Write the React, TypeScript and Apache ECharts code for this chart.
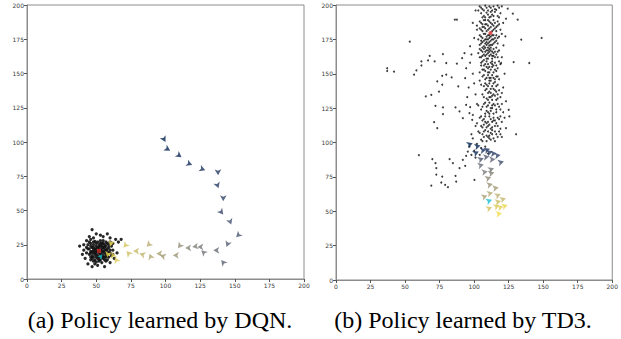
import React, { useEffect, useRef } from "react";
import * as echarts from "echarts";

// ---- tick labels ----
const ticks = [0, 25, 50, 75, 100, 125, 150, 175, 200];

// ---- captions ----
const captionA = "(a) Policy learned by DQN.";
const captionB = "(b) Policy learned by TD3.";

// ---- DQN panel ----
const dqnTraj: [number, number][] = [
  [100, 100], [103.4, 93.7], [111.6, 88.8], [119.3, 83.2], [128.7, 79.3], [138, 75.7],
  [138.3, 66.2], [141.7, 56.7], [141.7, 47], [147.5, 39.7], [151, 30.4], [144, 23.4],
  [140.2, 13.9], [134.5, 20.9], [125.8, 20.9], [123, 23.4], [119.3, 23.4], [114.2, 22.6],
  [109, 22.4], [105.3, 17.3], [96, 17.5], [93.3, 18.5], [88.4, 18.5], [86.3, 23.6],
  [81.2, 18.7], [76.6, 20.4], [71.8, 20.4], [69.6, 22.9], [63.4, 15.8], [61.4, 19.5],
  [60, 23.8], [57.8, 15.8],
];
const dqnCloud: [number, number][] = [
  [47, 15], [49, 14], [51, 15], [53, 14], [55, 15], [57, 16], [47, 17], [49, 18], [51, 17],
  [53, 18], [55, 17], [57, 18], [59, 19], [46, 20], [48, 21], [50, 20], [52, 21], [54, 20],
  [56, 21], [58, 20], [60, 21], [47, 23], [49, 22], [51, 23], [53, 24], [55, 23], [57, 24],
  [59, 23], [48, 25], [50, 26], [52, 25], [54, 26], [56, 25], [45, 18], [45, 22], [50, 12.5],
  [54, 12], [58, 14], [61, 17], [61, 24], [49, 27.5], [53, 28], [57, 27], [44, 25], [43, 19],
  [62, 21], [48, 19], [52, 19], [56, 19], [50, 16], [54, 16], [50, 24], [54, 22], [46, 16],
  [58, 26], [52, 13], [48, 27], [55, 26], [46, 24], [59, 16],
  [46, 14], [48, 13], [52, 14], [56, 14], [48, 16], [52, 16], [56, 16], [58, 17], [46, 19],
  [50, 18], [54, 18], [58, 22], [48, 23], [52, 23], [56, 23], [46, 26], [50, 22], [54, 24],
  [51, 27], [55, 28], [49, 20], [53, 21], [57, 21], [60, 19], [44, 22], [47, 20], [51, 20],
  [55, 20], [59, 25], [45, 27], [53, 26], [57, 13], [49, 11], [62, 18], [43, 23], [60, 27],
  [38, 24], [41, 21], [42, 15], [44, 11], [47, 9], [51, 10], [56, 9], [60, 12], [63, 15],
  [65, 19], [66, 27], [64, 29], [60, 30], [55, 31], [50, 33], [47, 36], [45, 31], [43, 28],
  [40, 18], [68, 29], [46, 29], [58, 33], [62, 26], [41, 25], [48, 30], [53, 32],
];
const dqnGoal: [number, number][] = [[52, 20.5]];
const dqnAgent: [number, number][] = [[54.5, 18]];

// ---- TD3 panel ----
const td3Traj: [number, number][] = [
  [99, 99.5], [104.6, 97.8], [103.4, 93.4], [108.7, 94.7], [111.5, 95.4], [113.5, 93.4],
  [116.3, 92.2], [119.2, 91], [121.6, 86.2], [107, 88.6], [111, 89.8], [115.4, 87.9],
  [107, 84], [114.4, 81.3], [109.9, 78.9], [114.7, 78.2], [112.3, 74.8], [113.5, 69.9],
  [117.8, 67.2], [109.6, 61.4], [113.7, 63.6], [119.2, 62.6], [123, 59.5], [119.5, 57.5],
  [113, 52.9], [118.3, 54.6], [121.2, 53.4], [124.3, 54.6], [120.2, 48.5],
];
const td3Heading: number[] = [
  20, 15, 25, 10, 20, 15, 5, 10, 15, 20, 10, 5, 15, 20, 10, 15, 20, 15, 10, 20, 15, 25, 20,
  15, 20, 25, 15, 20, 10,
];
const td3Cloud: [number, number][] = [
  [104, 199], [106, 197], [108, 199.5], [110, 196], [112, 198], [114, 199], [116, 196.5], [118, 198],
  [105, 194], [107, 192], [109, 194.5], [111, 191], [113, 193], [115, 195], [117, 192], [119, 194],
  [103, 196], [120, 199], [108, 191], [112, 195],
  [104, 188], [106, 186], [108, 189], [110, 185], [112, 187], [114, 189], [116, 184], [118, 186],
  [105, 182], [107, 184], [109, 181], [111, 183], [113, 181], [115, 183], [117, 188], [119, 182],
  [102, 185], [121, 187], [110, 189], [106, 181], [114, 185], [108, 183],
  [104, 178], [106, 176], [108, 179], [110, 175], [112, 177], [114, 178], [116, 174], [118, 177],
  [105, 172], [107, 174], [109, 171], [111, 173], [113, 171], [115, 176], [117, 172], [103, 175],
  [120, 179], [109, 177], [112, 174], [107, 170], [114, 172], [110, 172], [108, 175], [106, 173],
  [111, 178], [113, 175],
  [104, 168], [106, 166], [108, 169], [110, 165], [112, 167], [114, 168], [116, 164], [118, 167],
  [105, 162], [107, 164], [109, 161], [111, 163], [113, 161], [115, 166], [117, 162], [103, 165],
  [109, 167], [112, 164], [107, 160], [114, 163], [110, 169], [108, 163], [111, 166], [106, 169],
  [105, 158], [107, 156], [109, 159], [111, 155], [113, 157], [115, 158], [117, 154], [108, 152],
  [110, 151], [112, 153], [114, 151], [116, 156], [106, 153], [110, 157], [113, 155], [119, 157],
  [104, 151],
  [106, 148], [108, 146], [110, 149], [112, 145], [114, 147], [116, 148], [109, 142], [111, 143],
  [113, 141], [115, 144], [117, 142], [107, 141], [111, 147], [118, 146], [104, 145],
  [108, 138], [110, 136], [112, 139], [114, 135], [116, 137], [118, 138], [109, 132], [111, 133],
  [113, 131], [115, 134], [117, 132], [106, 135], [120, 136], [112, 136],
  [107, 128], [109, 126], [111, 129], [113, 125], [115, 127], [117, 128], [119, 124], [110, 122],
  [112, 123], [114, 121], [116, 124], [105, 124], [121, 122], [108, 121], [103, 127],
  [104, 118], [106, 116], [108, 119], [110, 115], [112, 117], [114, 118], [116, 114], [118, 117],
  [105, 112], [107, 113], [109, 111], [111, 113], [113, 111], [115, 116], [117, 112], [120, 115],
  [102, 114], [119, 110],
  [103, 108], [106, 106], [108, 109], [110, 104], [112, 107], [114, 103], [116, 106], [118, 108],
  [105, 102], [109, 101], [111, 105], [113, 109], [120, 104], [115, 101], [107, 104],
  [102, 99], [105, 96], [100, 94], [104, 91], [108, 97], [110, 92], [98, 91], [101, 89],
  // second pass through the column
  [105, 198], [107, 196], [109, 198], [111, 199], [113, 196], [115, 197], [117, 199.5], [110, 193],
  [114, 192], [106, 191], [118, 191], [112, 191.5],
  [105, 187], [107, 189], [109, 186], [111, 188], [113, 186], [115, 187], [117, 185], [106, 184],
  [110, 182], [112, 184], [116, 181], [104, 183], [108, 186], [114, 182],
  [105, 177], [107, 179], [109, 175], [111, 176], [113, 178], [115, 173], [117, 176], [105, 174],
  [108, 172], [110, 178], [112, 171], [116, 178], [104, 171], [114, 175], [109, 173], [111, 170.5],
  [105, 167], [107, 168], [109, 164], [111, 168], [113, 166], [115, 162], [117, 166], [106, 163],
  [108, 166], [110, 161], [112, 169], [114, 165], [116, 169], [104, 162], [110, 167], [113, 163],
  [106, 159], [108, 157], [110, 154], [112, 158], [114, 156], [116, 152], [118, 159], [107, 153],
  [109, 155], [111, 151], [115, 153], [105, 156], [113, 159],
  [107, 149], [109, 147], [111, 145], [113, 149], [115, 146], [117, 148], [108, 143], [110, 141],
  [112, 147], [114, 143], [116, 141], [105, 142],
  [109, 139], [111, 137], [113, 134], [115, 138], [117, 135], [110, 131], [112, 133], [114, 139],
  [116, 131], [107, 133], [119, 133],
  [108, 129], [110, 127], [112, 125], [114, 128], [116, 122], [118, 126], [109, 123], [111, 121],
  [113, 127], [106, 126], [120, 128],
  [105, 119], [107, 117], [109, 114], [111, 119], [113, 115], [115, 112], [117, 118], [106, 111],
  [108, 115], [110, 112], [112, 110], [114, 116], [119, 119],
  [104, 107], [107, 108], [109, 105], [111, 103], [113, 106], [115, 108], [117, 104], [106, 101],
  [110, 108], [112, 102], [119, 106],
  // scattered outliers
  [37, 154], [37, 152], [42, 151.5], [53.4, 173.3], [56.5, 149.3], [58.2, 152.4], [61.8, 159],
  [61.8, 156], [65, 133.5], [66.6, 159.7], [67.8, 163], [69, 134.7], [71.4, 159], [72, 126.7],
  [71, 114.8], [73.3, 110.4], [73.3, 144.4], [74.5, 137], [76.9, 142], [76.9, 148.5],
  [77.4, 164.3], [77.4, 120.6], [77.4, 125.5], [79.8, 157.8], [79.8, 149.3], [83.7, 147.3],
  [86, 189.3], [87.5, 189.3], [87.5, 157.3], [86.5, 125.5], [88.5, 140.8], [89.4, 122.6],
  [91.3, 161.4], [91.8, 117.7], [93, 165], [94.2, 154], [93.5, 146.8], [96.6, 121.4],
  [97.1, 125.7], [98.6, 116.5], [94.2, 127.4], [60, 90.8], [69.7, 87.9], [72, 85], [72.6, 81.3],
  [72.6, 76.7], [69, 68.7], [76.9, 75.2], [76.2, 70.9], [79, 69.2], [81, 67.5], [82.2, 87.9],
  [84.6, 85], [86.5, 75.7], [87, 71.6], [89.4, 81.3], [91.8, 87.4], [93.5, 83], [94.2, 90.3],
  [95.4, 93.4], [100.2, 72.8], [99, 103], [96.6, 97], [130.3, 106], [125, 123.8], [125.5, 119],
  [123, 110.4], [128.6, 158.5], [131.5, 189.3], [128, 193.7], [124.3, 197.3], [139.9, 157.8],
  [134.1, 174.8], [148.8, 176], [122.6, 177.2], [121.2, 170.6], [119.5, 157.8],
  [97, 158], [99, 150], [100, 143], [101, 135], [102, 128], [99, 120], [101, 112], [98, 106],
  [96, 140], [95, 133], [97, 170], [100, 176], [102, 182], [99, 187], [122, 150], [121, 140],
  [123, 130], [122, 118], [120, 162], [123, 190], [101, 196], [98, 164],
];
const td3Goal: [number, number][] = [[111.8, 179.6]];
const td3Agent: [number, number][] = [[113, 58.3]];

// cividis colormap stops (style)
const CIV = [
  [0, 34, 78],
  [53, 69, 108],
  [124, 123, 120],
  [188, 175, 111],
  [240, 220, 70],
];
function civ(t: number): string {
  const s = Math.max(0, Math.min(1, t)) * (CIV.length - 1);
  const i = Math.min(CIV.length - 2, Math.floor(s));
  const f = s - i;
  const c = CIV[i].map((v, k) => Math.round(v + (CIV[i + 1][k] - v) * f));
  return `rgb(${c[0]},${c[1]},${c[2]})`;
}

function trajData(pts: [number, number][], headings?: number[]) {
  const n = pts.length;
  return pts.map((p, i) => {
    let ang: number;
    if (headings) {
      ang = headings[i];
    } else {
      const a = i < n - 1 ? pts[i] : pts[i - 1];
      const b = i < n - 1 ? pts[i + 1] : pts[i];
      ang = (Math.atan2(b[1] - a[1], b[0] - a[0]) * 180) / Math.PI;
    }
    return {
      value: p,
      symbolRotate: ang - 90,
      itemStyle: { color: civ(i / (n - 1)) },
    };
  });
}

export default function App() {
  const ref = useRef<HTMLDivElement>(null);
  useEffect(() => {
    if (!ref.current) return;
    const chart = echarts.init(ref.current, undefined, { renderer: "svg" });
    const axisCommon = {
      type: "value" as const,
      min: 0,
      max: 200,
      interval: 25,
      splitLine: { show: false },
      axisLine: { show: true, lineStyle: { color: "#8c8c8c", width: 1 } },
      axisTick: { show: true, length: 3, lineStyle: { color: "#555" } },
      axisLabel: {
        fontSize: 6,
        color: "#3a3a3a",
        fontFamily: "DejaVu Sans",
        margin: 3,
        showMinLabel: true,
        showMaxLabel: true,
        formatter: (v: number) => (ticks.includes(v) ? String(v) : ""),
      },
    };
    const grids = [
      { left: 27, top: 5, width: 277, height: 274 },
      { left: 336, top: 5, width: 277, height: 275 },
    ];
    const captionText = {
      fontFamily: "Liberation Serif",
      fontSize: 24,
      fontWeight: "normal" as const,
      color: "#000",
    };
    chart.setOption({
      animation: false,
      backgroundColor: "#fff",
      title: [
        { text: captionA, left: 160, top: 308, textAlign: "center", padding: 0, textStyle: captionText },
        { text: captionB, left: 463, top: 308, textAlign: "center", padding: 0, textStyle: captionText },
      ],
      grid: grids.map((g) => ({
        ...g,
        show: true,
        borderColor: "#8c8c8c",
        borderWidth: 1,
        backgroundColor: "transparent",
      })),
      xAxis: [0, 1].map((i) => ({ ...axisCommon, gridIndex: i })),
      yAxis: [0, 1].map((i) => ({ ...axisCommon, gridIndex: i })),
      series: [
        {
          type: "scatter",
          xAxisIndex: 0,
          yAxisIndex: 0,
          data: dqnCloud,
          symbol: "circle",
          symbolSize: 3.2,
          itemStyle: { color: "#111", opacity: 0.9 },
        },
        {
          type: "scatter",
          xAxisIndex: 0,
          yAxisIndex: 0,
          data: trajData(dqnTraj),
          symbol: "arrow",
          symbolSize: [5, 6],
        },
        {
          type: "scatter",
          xAxisIndex: 0,
          yAxisIndex: 0,
          data: dqnGoal,
          symbol: "rect",
          symbolSize: 4,
          itemStyle: { color: "#d62728" },
        },
        {
          type: "scatter",
          xAxisIndex: 0,
          yAxisIndex: 0,
          data: dqnAgent,
          symbol: "arrow",
          symbolRotate: -40,
          symbolSize: [4, 5],
          itemStyle: { color: "#17becf" },
        },
        {
          type: "scatter",
          xAxisIndex: 1,
          yAxisIndex: 1,
          data: td3Cloud,
          symbol: "circle",
          symbolSize: 2,
          itemStyle: { color: "#1a1a1a", opacity: 0.85 },
        },
        {
          type: "scatter",
          xAxisIndex: 1,
          yAxisIndex: 1,
          data: trajData(td3Traj, td3Heading),
          symbol: "arrow",
          symbolSize: [5, 6],
        },
        {
          type: "scatter",
          xAxisIndex: 1,
          yAxisIndex: 1,
          data: td3Goal,
          symbol: "circle",
          symbolSize: 4,
          itemStyle: { color: "#d62728" },
        },
        {
          type: "scatter",
          xAxisIndex: 1,
          yAxisIndex: 1,
          data: td3Agent,
          symbol: "arrow",
          symbolRotate: -70,
          symbolSize: [5, 6],
          itemStyle: { color: "#17becf" },
        },
      ],
    });
    return () => chart.dispose();
  }, []);
  return (
    <div
      ref={ref}
      style={{ position: "fixed", left: 0, top: 0, width: 621, height: 339 }}
    />
  );
}
